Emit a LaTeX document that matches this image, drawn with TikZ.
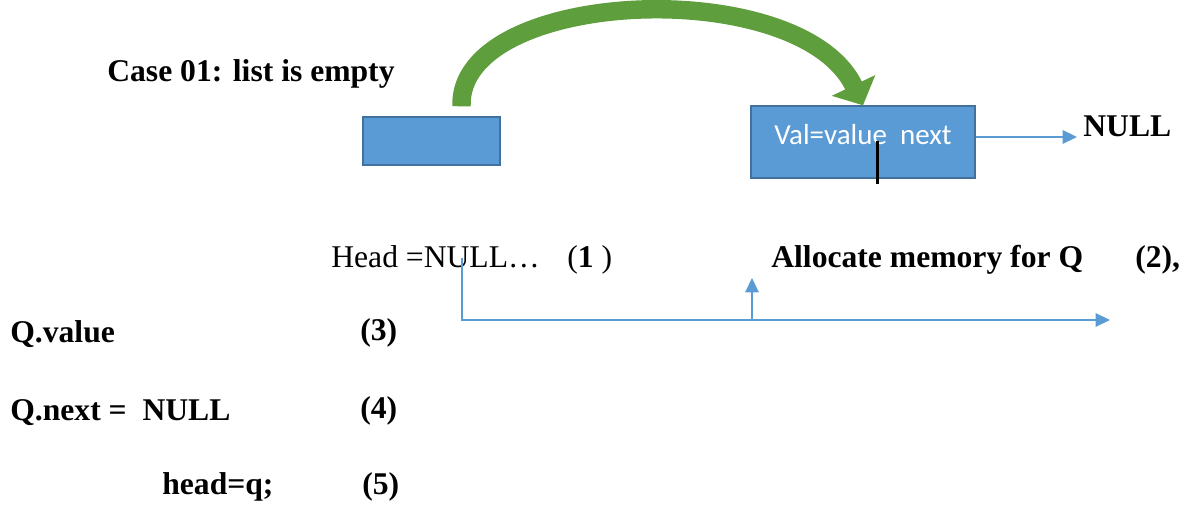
\documentclass[tikz,border=0pt]{standalone}
\usepackage{fontspec}
\setmainfont{Liberation Serif}
\newfontfamily\boxfont{Carlito}
\usetikzlibrary{calc, positioning, arrows.meta}

\definecolor{boxblue}{HTML}{5B9BD5}
\definecolor{boxedge}{HTML}{41719C}
\definecolor{arcgreen}{HTML}{5F9E3C}

\tikzset{
  cell/.style={draw=boxedge, line width=0.8pt, fill=boxblue},
  txt/.style={anchor=base west, inner sep=0pt, font=\fontsize{18}{21}\selectfont},
  btxt/.style={txt, font=\fontsize{18}{21}\selectfont\bfseries},
  link/.style={draw=boxblue, line width=1.2pt},
  tip/.style={-{Triangle[width=0.27cm, length=0.29cm]}}
}

\begin{document}
\begin{tikzpicture}[x=0.02cm, y=-0.02cm]
  \useasboundingbox (0,0) rectangle (1187,506);
  \node[btxt] (case) at (107,82) {Case 01: list is empty};
  \node[cell, minimum width=2.74cm, minimum height=0.96cm] (head) at (431.5,141) {};
  \node[cell, minimum width=4.48cm, minimum height=1.44cm, text=white,
        font=\boxfont\fontsize{16.5}{19}\selectfont, text height=11pt, text depth=8.6pt]
        (q) at (863,142) {Val=value\ \ next};
  \node[btxt] (null) at (1083,137) {NULL};
  \draw[link, tip] ($(q.east)+(0,-5)$) -- ($(null.base west)+(-6,0)$);
  % new node gets linked in
  \draw[arcgreen, line width=10.5pt, -{Triangle[width=0.94cm, length=0.44cm]}]
    ($(head.north)+(30,-10)$) .. controls +(-4,-118) and +(-63,-132) .. (q.north);
  \draw[line width=1.7pt] ($(q.south)+(14,5)$) -- ($(q.south)+(14,-38)$);

  \node[txt] (hnull) at (331,268) {Head =NULL…};
  \node[txt] (one) at (567,268) {(\textbf{1} )};
  \node[btxt] (alloc) at (771,268) {Allocate memory for Q};
  \node[btxt] (two) at (1135,268) {(2),};
  \node[btxt] (qval) at (10,343) {Q.value};
  \node[btxt] (three) at (360,341) {(3)};
  \node[btxt] (qnext) at (10,421) {Q.next = \ NULL};
  \node[btxt] (four) at (360,419) {(4)};
  \node[btxt] (hq) at (162,495) {head=q;};
  \node[btxt] (five) at (362,495) {(5)};

  \coordinate (hd) at (462,258);
  \coordinate (fork) at (752,320);
  \coordinate (rend) at (1110,320);
  \coordinate (up) at (752,278);
  \draw[link, tip] (hd) |- (rend);
  \draw[link, tip] (fork) -- (up);
\end{tikzpicture}
\end{document}
